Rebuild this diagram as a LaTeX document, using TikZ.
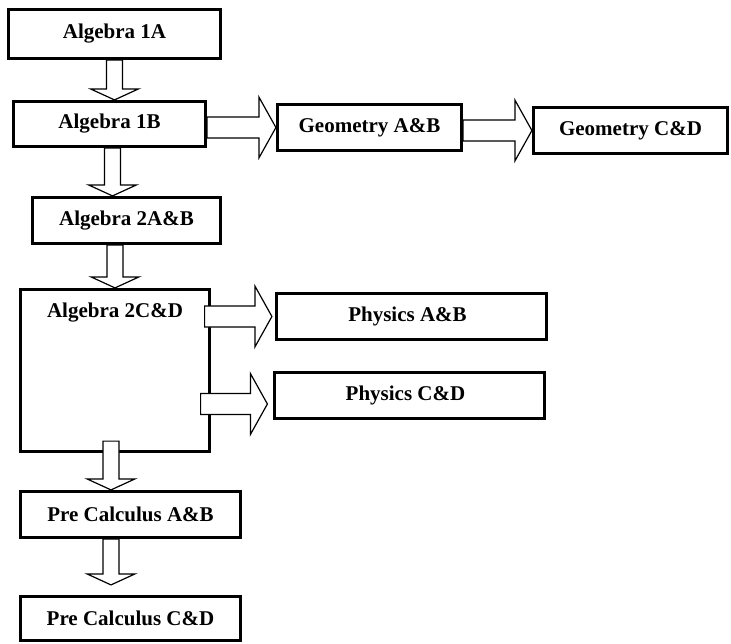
\documentclass[tikz,border=0pt]{standalone}
\usepackage{fontspec}
\setmainfont{Liberation Serif}
\usetikzlibrary{calc}
\tikzset{
  box/.style={draw=black, line width=3.2pt, rectangle, fill=white, inner sep=0pt,
    font=\bfseries\fontsize{21}{24}\selectfont},
  blk/.style={draw=black, fill=white, line width=1.2pt, line join=miter}
}
\newcommand\blkdown[2]{\draw[blk] let \p1=(#1), \p2=(#2) in
  (\x1-8pt,\y1) -- (\x1-8pt,\y2+11pt) -- (\x1-24pt,\y2+11pt) -- (\x1,\y2)
  -- (\x1+24pt,\y2+11pt) -- (\x1+8pt,\y2+11pt) -- (\x1+8pt,\y1) -- cycle;}
\newcommand\blkright[2]{\draw[blk] let \p1=(#1), \p2=(#2) in
  (\x1,\y1+10.5pt) -- (\x2-17pt,\y1+10.5pt) -- (\x2-17pt,\y1+30.5pt) -- (\x2,\y1)
  -- (\x2-17pt,\y1-30.5pt) -- (\x2-17pt,\y1-10.5pt) -- (\x1,\y1-10.5pt) -- cycle;}
\begin{document}
\begin{tikzpicture}[x=1pt,y=-1pt]
\useasboundingbox (0,0) rectangle (731,643);
% boxes
\node[box, minimum width=212pt, minimum height=49pt] (a1a) at (114.5,34) {Algebra 1A};
\node[box, minimum width=192pt, minimum height=45pt] (a1b) at (109.5,124) {Algebra 1B};
\node[box, minimum width=184pt, minimum height=46pt] (gab) at (369.5,127.5) {Geometry A\&B};
\node[box, minimum width=194pt, minimum height=46pt] (gcd) at (630.5,130.5) {Geometry C\&D};
\node[box, minimum width=188pt, minimum height=46pt] (a2ab) at (126.5,220.5) {Algebra 2A\&B};
\node[box, minimum width=189pt, minimum height=162pt,
  label={[anchor=center, yshift=-24.5pt, font=\bfseries\fontsize{21}{24}\selectfont, name=a2cdt]north:Algebra 2C\&D}] (a2cd) at (115,370.5) {};
\node[box, minimum width=270pt, minimum height=46pt] (pab) at (411.5,316.5) {\hspace*{-8pt}Physics A\&B};
\node[box, minimum width=270pt, minimum height=46pt] (pcd) at (409.5,395.5) {\hspace*{-8pt}Physics C\&D};
\node[box, minimum width=220pt, minimum height=46pt] (pcab) at (130.5,514.5) {Pre Calculus A\&B};
\node[box, minimum width=220pt, minimum height=44pt] (pccd) at (130.5,618.5) {Pre Calculus C\&D};
% helper coordinates
\coordinate (v2s) at ([xshift=3pt]a1b.south);
\coordinate (v3s) at ([xshift=-11.5pt]a2ab.south);
\coordinate (v4s) at ([xshift=-4pt,yshift=12pt]a2cd.south);
\coordinate (v5s) at ([xshift=-19.5pt]pcab.south);
\coordinate (v5b) at (v5s |- pccd.north);
\coordinate (v5t) at ([yshift=10pt]v5b);
\coordinate (h1s) at (a1b.east |- gab.west);
\coordinate (h2s) at (gab.east |- gcd.west);
\coordinate (h3b) at (a2cd.east |- pab.west);
\coordinate (h4b) at (a2cd.east |- pcd.west);
% arrows
\blkdown{a1a.south}{a1a.south |- a1b.north}
\blkdown{v2s}{v2s |- a2ab.north}
\blkdown{v3s}{v3s |- a2cd.north}
\blkdown{v4s}{v4s |- pcab.north}
\blkdown{v5s}{v5t}
\blkright{h1s}{gab.west}
\blkright{h2s}{gcd.west}
\blkright{[xshift=-6.5pt]h3b}{[xshift=-3pt]pab.west}
\blkright{[xshift=-10.5pt,yshift=-8.5pt]h4b}{[xshift=-5.5pt,yshift=-8.5pt]pcd.west}
\end{tikzpicture}
\end{document}
